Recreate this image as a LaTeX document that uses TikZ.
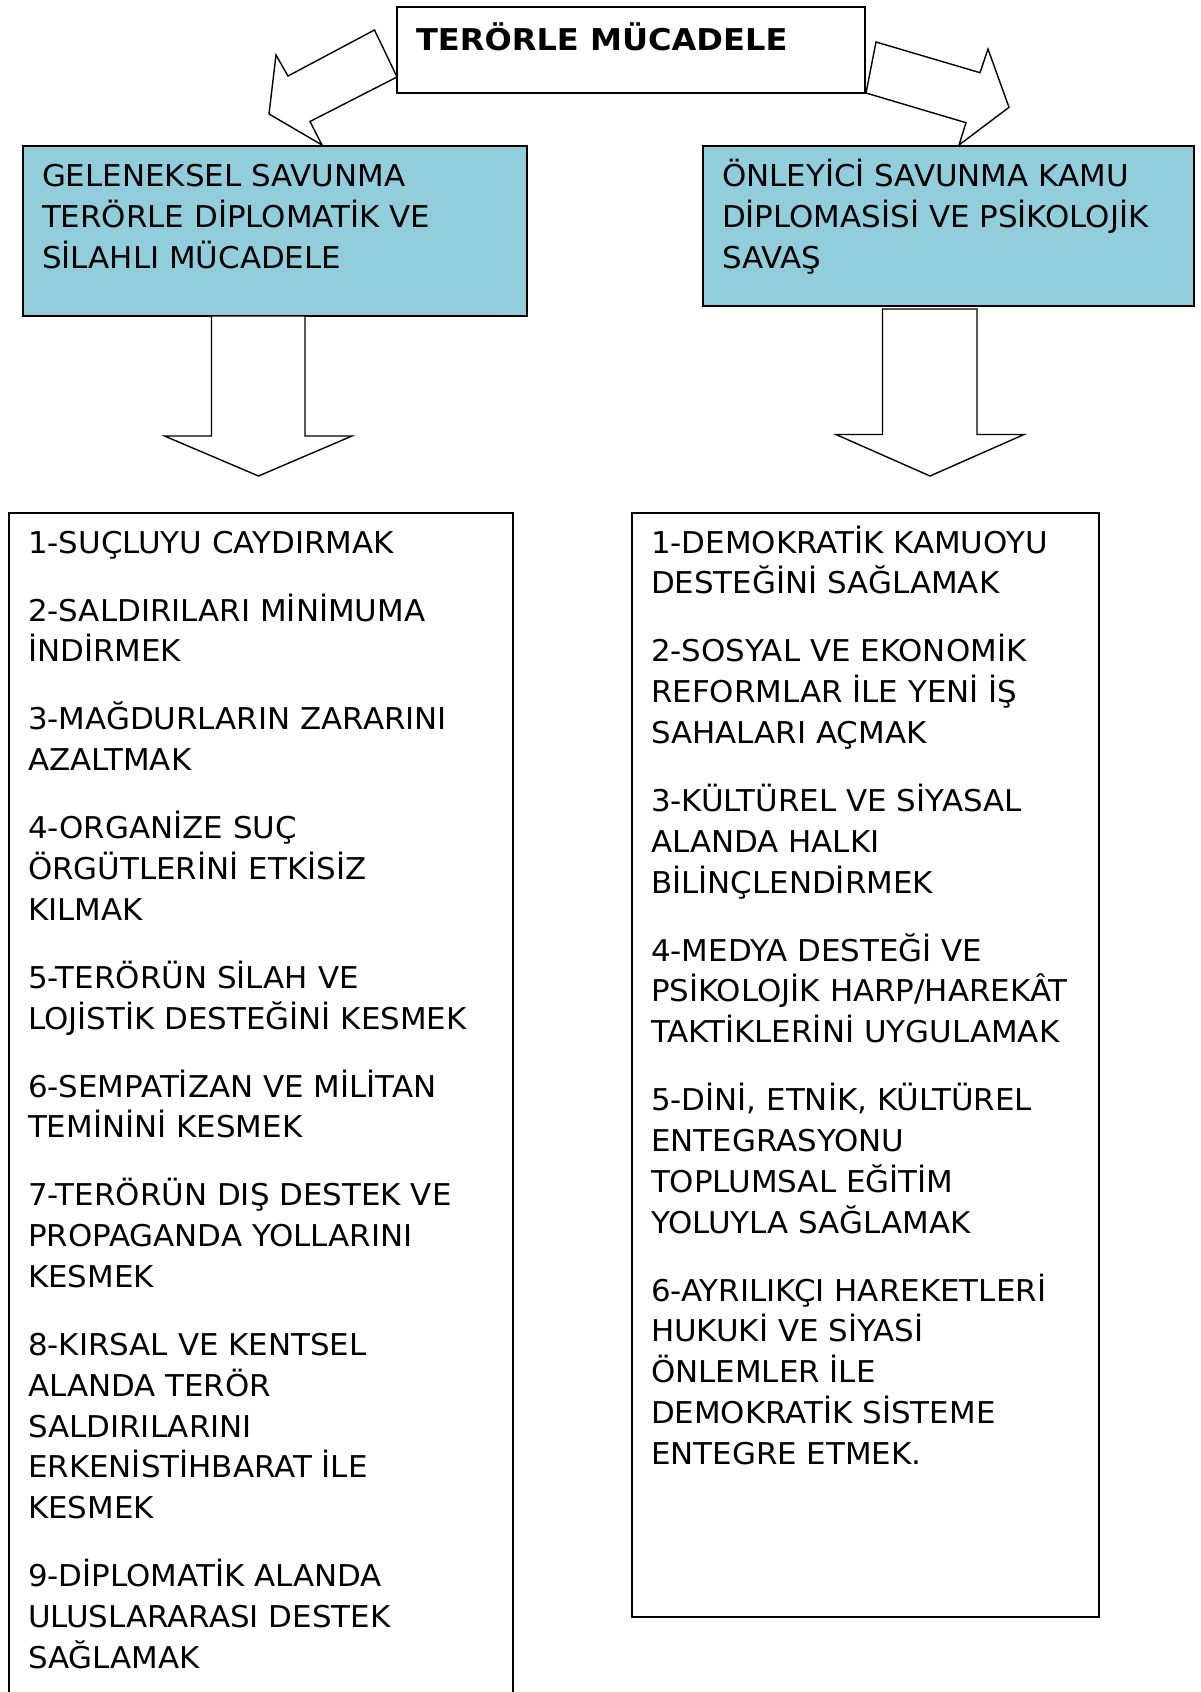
\documentclass[tikz,border=0pt]{standalone}
\usepackage{fontspec}
\setmainfont[FakeStretch=1.03]{DejaVu Sans}
\newfontfamily\titlefont[FakeStretch=1.07]{DejaVu Sans}
\definecolor{boxblue}{HTML}{92CDDC}
\begin{document}
\begin{tikzpicture}[x=1pt,y=-1pt,
  every node/.style={inner sep=0pt, outer sep=0pt},
  frame/.style={draw=black, line width=2pt, anchor=north west},
  bluebox/.style={frame, fill=boxblue},
  blockarrow/.style={draw=black, line width=1.4pt, fill=white, line join=miter},
  item/.style={anchor=base west, align=left, font=\fontsize{30}{40.8}\selectfont},
  ]
\useasboundingbox (0,0) rectangle (1200,1692);
\fill[white] (0,0) rectangle (1200,1692);

% bent arrows from the title box
\draw[blockarrow] (374.5,30) -- (288,76) -- (276,55) -- (269,114) -- (322,145) -- (310,121.5) -- (397,77) -- cycle;
\draw[blockarrow] (876,42) -- (980,72.7) -- (988,49) -- (1009,107.3) -- (959,145) -- (966,122.7) -- (866,93) -- cycle;

% title
\node[frame, fill=white, minimum width=468pt, minimum height=86.5pt] (title) at (397,6.5) {};
\node[anchor=base west, font=\titlefont\fontsize{30}{36}\selectfont\bfseries] (titletext) at (416,50) {TERÖRLE MÜCADELE};

% blue boxes
\node[bluebox, minimum width=504pt, minimum height=170.5pt] (geleneksel) at (22.7,145.7) {};
\node[bluebox, minimum width=491pt, minimum height=160.5pt] (onleyici) at (702.5,145.7) {};
% (multi-line nodes: the base anchor is the baseline of the last line)
\node[item, font=\fontsize{30}{41}\selectfont] (gtext) at (42,268) {GELENEKSEL SAVUNMA\\TERÖRLE DİPLOMATİK VE\\SİLAHLI MÜCADELE};
\node[item, font=\fontsize{30}{41}\selectfont] (otext) at (722,268) {ÖNLEYİCİ SAVUNMA KAMU\\DİPLOMASİSİ VE PSİKOLOJİK\\SAVAŞ};

% down arrows
\draw[blockarrow] (211.5,316) -- (305,316) -- (305,436) -- (352,436) -- (258.5,476) -- (164.5,436) -- (211.5,436) -- cycle;
\draw[blockarrow] (882.5,309) -- (977,309) -- (977,434.5) -- (1024,434.5) -- (930,476) -- (836,434.5) -- (882.5,434.5) -- cycle;

% list boxes
\node[frame, minimum width=504pt, minimum height=1220pt] (leftlist) at (8.6,512.6) {};
\node[frame, minimum width=467pt, minimum height=1104pt] (rightlist) at (632.4,512.6) {};

% left list
\node[item] (l1) at (28,553) {1-SUÇLUYU CAYDIRMAK};
\node[item] (l2) at (28,661.8) {2-SALDIRILARI MİNİMUMA\\İNDİRMEK};
\node[item] (l3) at (28,770.6) {3-MAĞDURLARIN ZARARINI\\AZALTMAK};
\node[item] (l4) at (28,920.2) {4-ORGANİZE SUÇ\\ÖRGÜTLERİNİ ETKİSİZ\\KILMAK};
\node[item] (l5) at (28,1029) {5-TERÖRÜN SİLAH VE\\LOJİSTİK DESTEĞİNİ KESMEK};
\node[item] (l6) at (28,1137.8) {6-SEMPATİZAN VE MİLİTAN\\TEMİNİNİ KESMEK};
\node[item] (l7) at (28,1287.4) {7-TERÖRÜN DIŞ DESTEK VE\\PROPAGANDA YOLLARINI\\KESMEK};
\node[item] (l8) at (28,1518.6) {8-KIRSAL VE KENTSEL\\ALANDA TERÖR\\SALDIRILARINI\\ERKENİSTİHBARAT İLE\\KESMEK};
\node[item] (l9) at (28,1668.2) {9-DİPLOMATİK ALANDA\\ULUSLARARASI DESTEK\\SAĞLAMAK};

% right list
\node[item] (r1) at (651,593.8) {1-DEMOKRATİK KAMUOYU\\DESTEĞİNİ SAĞLAMAK};
\node[item] (r2) at (651,743.4) {2-SOSYAL VE EKONOMİK\\REFORMLAR İLE YENİ İŞ\\SAHALARI AÇMAK};
\node[item] (r3) at (651,893) {3-KÜLTÜREL VE SİYASAL\\ALANDA HALKI\\BİLİNÇLENDİRMEK};
\node[item] (r4) at (651,1042.6) {4-MEDYA DESTEĞİ VE\\PSİKOLOJİK HARP/HAREKÂT\\TAKTİKLERİNİ UYGULAMAK};
\node[item] (r5) at (651,1233) {5-DİNİ, ETNİK, KÜLTÜREL\\ENTEGRASYONU\\TOPLUMSAL EĞİTİM\\YOLUYLA SAĞLAMAK};
\node[item] (r6) at (651,1464.2) {6-AYRILIKÇI HAREKETLERİ\\HUKUKİ VE SİYASİ\\ÖNLEMLER İLE\\DEMOKRATİK SİSTEME\\ENTEGRE ETMEK.};
\end{tikzpicture}
\end{document}
